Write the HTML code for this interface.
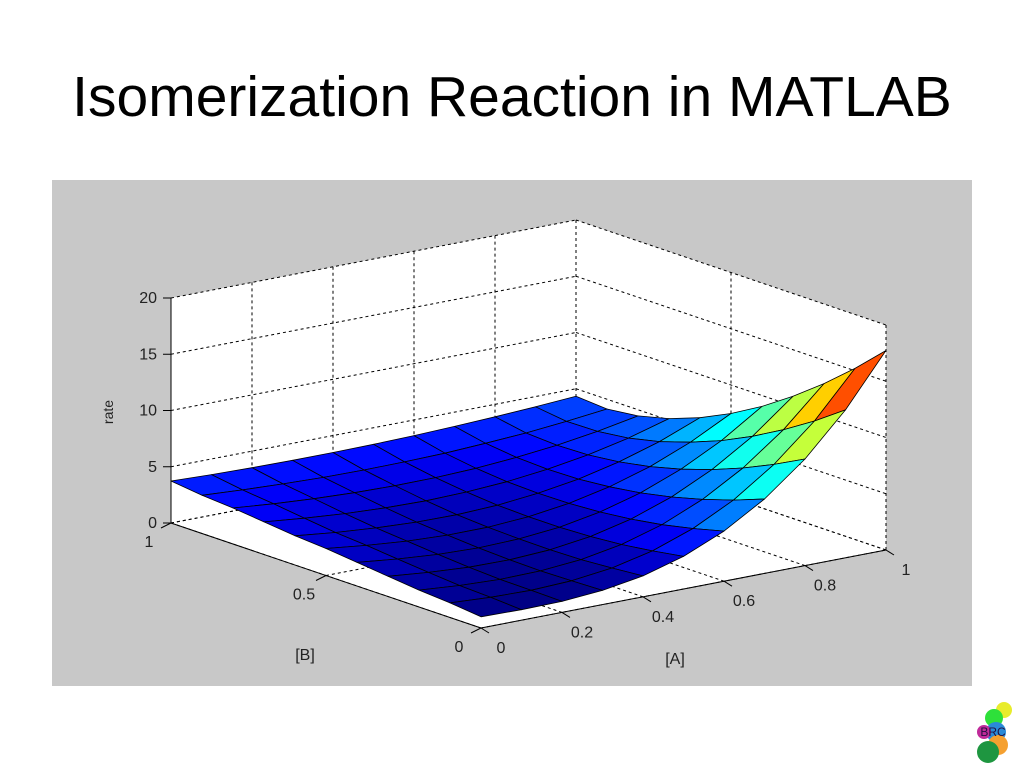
<!DOCTYPE html>
<html><head><meta charset="utf-8"><style>
html,body{margin:0;padding:0;background:#fff;width:1024px;height:768px;overflow:hidden}
#title{position:absolute;left:0;top:64px;width:1024px;text-align:center;font:57px "Liberation Sans",sans-serif;color:#000;line-height:66px}
svg{position:absolute;left:0;top:0}
text{font-family:"Liberation Sans",sans-serif}
</style></head><body>
<svg id="chart" width="1024" height="768">
<rect x="52" y="180" width="920" height="506" fill="#c8c8c8"/>
<g id="g"></g>
<g>
<circle cx="1004" cy="710" r="8" fill="#e8ec2c"/>
<circle cx="994" cy="718" r="9" fill="#2ee03a"/>
<circle cx="996" cy="732" r="10" fill="#2a8ad8"/>
<circle cx="998" cy="745" r="10" fill="#f5a030"/>
<circle cx="984" cy="732" r="7" fill="#c02a9a"/>
<circle cx="988" cy="752" r="11" fill="#1e9640"/>
<text x="993" y="736" font-size="12" text-anchor="middle" fill="#201040">BRC</text>
</g>
</svg>
<div id="title">Isomerization Reaction in MATLAB</div>
<script>
const aTicks=[0,0.2,0.4,0.6,0.8,1];
const bTicks=[0,0.5,1];
const zTicks=[0,5,10,15,20];
const aGrid=[0,0.1,0.2,0.3,0.4,0.5,0.6,0.7,0.8,0.9,1];
const bGrid=[0,0.1,0.2,0.3,0.4,0.5,0.6,0.7,0.8,0.9,1];
// rate[bIndex][aIndex]
const rate=[
[1.00,0.93,0.98,1.26,1.86,2.90,4.45,6.61,9.48,13.15,17.73],
[1.30,1.10,1.03,1.18,1.63,2.45,3.75,5.58,8.06,11.23,15.21],
[1.50,1.22,1.07,1.13,1.44,2.09,3.16,4.71,6.81,9.52,12.92],
[1.80,1.45,1.22,1.18,1.38,1.87,2.72,3.99,5.73,8.00,10.86],
[2.10,1.71,1.42,1.31,1.41,1.76,2.42,3.42,4.84,6.68,9.03],
[2.40,1.98,1.67,1.51,1.52,1.76,2.25,3.03,4.13,5.61,7.47],
[2.60,2.20,1.91,1.73,1.70,1.85,2.21,2.78,3.62,4.73,6.16],
[2.90,2.53,2.25,2.07,2.00,2.09,2.31,2.72,3.31,4.11,5.15],
[3.20,2.88,2.64,2.48,2.41,2.44,2.57,2.84,3.23,3.77,4.45],
[3.40,3.18,3.02,2.91,2.87,2.90,2.98,3.16,3.39,3.72,4.13],
[3.73,3.61,3.53,3.49,3.49,3.53,3.61,3.73,3.89,4.09,4.33]
];
const O=[481,628],VA=[405,-78],VB=[-310,-105],ZS=11.25;
function P(a,b,z){return [O[0]+a*VA[0]+b*VB[0], O[1]+a*VA[1]+b*VB[1]-z*ZS];}
const NS='http://www.w3.org/2000/svg';
const g=document.getElementById('g');
function el(t,at,parent){const e=document.createElementNS(NS,t);for(const k in at)e.setAttribute(k,at[k]);(parent||g).appendChild(e);return e;}
function pts(arr){return arr.map(p=>p[0].toFixed(1)+','+p[1].toFixed(1)).join(' ');}
const box=el('polygon',{points:pts([P(0,1,0),P(0,1,20),P(1,1,20),P(1,0,20),P(1,0,0),P(0,0,0)]),fill:'#fff'});


const dash={stroke:'#000','stroke-width':1,'stroke-dasharray':'3,3',fill:'none'};
function line(p,q,at,name){const l=el('line',Object.assign({x1:p[0],y1:p[1],x2:q[0],y2:q[1]},at));return l;}
aTicks.forEach(a=>{line(P(a,1,0),P(a,1,20),dash,'grid-wall-a');line(P(a,0,0),P(a,1,0),dash,'grid-floor-a');});
bTicks.forEach(b=>{line(P(1,b,0),P(1,b,20),dash,'grid-wall-b');line(P(0,b,0),P(1,b,0),dash,'grid-floor-b');});
zTicks.forEach(z=>{line(P(0,1,z),P(1,1,z),dash,'grid-wall-z');line(P(1,1,z),P(1,0,z),dash,'grid-wall-z');});
const solid={stroke:'#000','stroke-width':1};
line(P(0,1,0),P(0,1,20),solid,'z-axis');
line(P(0,0,0),P(1,0,0),solid,'a-axis');
line(P(0,0,0),P(0,1,0),solid,'b-axis');
function jet(t){t=Math.max(0,Math.min(1,t));
 const r=Math.max(0,Math.min(1,1.5-Math.abs(4*t-3))),gg=Math.max(0,Math.min(1,1.5-Math.abs(4*t-2))),b=Math.max(0,Math.min(1,1.5-Math.abs(4*t-1)));
 return 'rgb('+Math.round(r*255)+','+Math.round(gg*255)+','+Math.round(b*255)+')';}
let zmin=Infinity,zmax=-Infinity;rate.forEach(r=>r.forEach(v=>{zmin=Math.min(zmin,v);zmax=Math.max(zmax,v);}));
const cells=[];
for(let j=0;j<bGrid.length-1;j++)for(let i=0;i<aGrid.length-1;i++){
 const q=[P(aGrid[i],bGrid[j],rate[j][i]),P(aGrid[i+1],bGrid[j],rate[j][i+1]),P(aGrid[i+1],bGrid[j+1],rate[j+1][i+1]),P(aGrid[i],bGrid[j+1],rate[j+1][i])];
 const avg=(rate[j][i]+rate[j][i+1]+rate[j+1][i+1]+rate[j+1][i])/4;
 const depth=P((aGrid[i]+aGrid[i+1])/2,(bGrid[j]+bGrid[j+1])/2,0)[1];
 cells.push({q,avg,depth});}
cells.sort((x,y)=>x.depth-y.depth);
cells.forEach(c=>{const p=el('polygon',{points:pts(c.q),fill:jet((c.avg-zmin)/(zmax-zmin)),stroke:'#000','stroke-width':0.8,'stroke-linejoin':'round'});
 
 });
function txt(x,y,s,anchor,name,size){const t=el('text',{x:x,y:y,'font-size':size||16,'text-anchor':anchor||'middle',fill:'#222'});t.textContent=s;return t;}
zTicks.forEach(z=>{const p=P(0,1,z);line([p[0]-8,p[1]],p,solid,'z-tick');txt(p[0]-14,p[1]+5,String(z),'end','z-tick-label');});
aTicks.forEach(a=>{const p=P(a,0,0);line(p,[p[0]+8,p[1]+5],solid,'a-tick');txt(p[0]+20,p[1]+25,String(a),'middle','a-tick-label');});
bTicks.forEach(b=>{const p=P(0,b,0);line(p,[p[0]-10,p[1]+5],solid,'b-tick');txt(p[0]-22,p[1]+24,String(b),'middle','b-tick-label');});
txt(305,660,'[B]','middle','b-axis-title');
txt(675,664,'[A]','middle','a-axis-title');
const rt=txt(0,0,'rate','middle','z-axis-title',14);rt.setAttribute('transform','translate(113,412) rotate(-90)');
</script>
</body></html>
